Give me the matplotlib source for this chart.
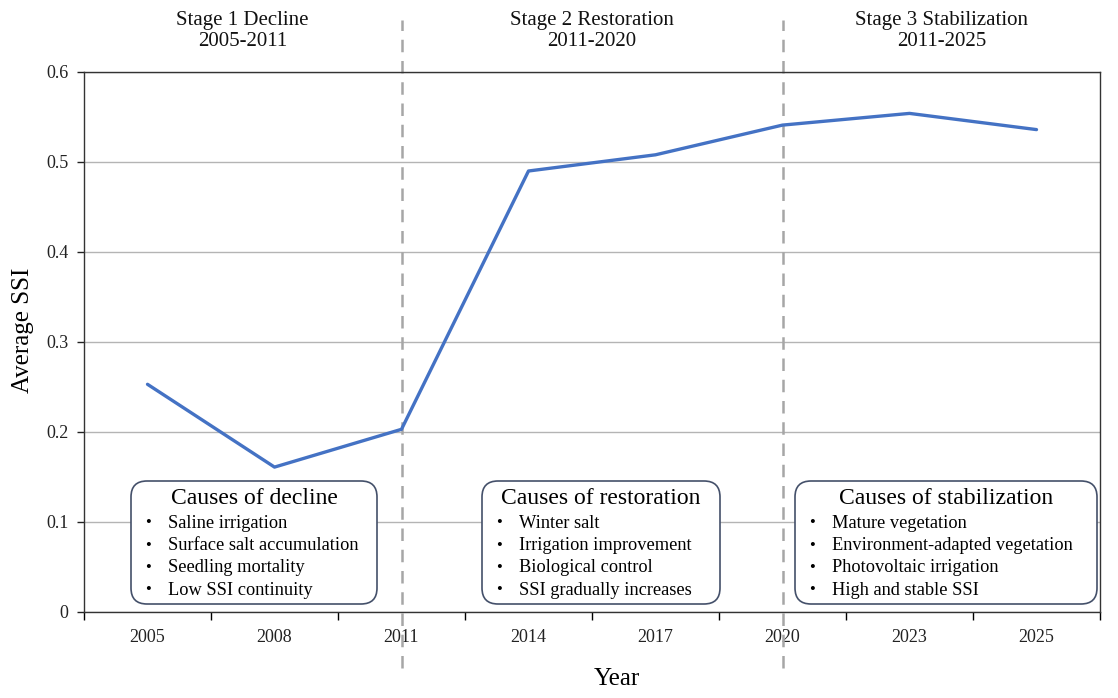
import matplotlib
matplotlib.use("Agg")
import matplotlib.pyplot as plt
from matplotlib.patches import FancyBboxPatch

plt.rcParams['font.family'] = ['Liberation Serif', 'DejaVu Serif']

# data
years = ["2005", "2008", "2011", "2014", "2017", "2020", "2023", "2025"]
ssi = [0.253, 0.161, 0.203, 0.490, 0.508, 0.541, 0.554, 0.536]

stage_titles = ["Stage 1 Decline\n2005-2011",
                "Stage 2 Restoration\n2011-2020",
                "Stage 3 Stabilization\n2011-2025"]
stage_breaks = ["2011", "2020"]

box_titles = ["Causes of decline", "Causes of restoration", "Causes of stabilization"]
box_items = [
    ["Saline irrigation", "Surface salt accumulation", "Seedling mortality", "Low SSI continuity"],
    ["Winter salt", "Irrigation improvement", "Biological control", "SSI gradually increases"],
    ["Mature vegetation", "Environment-adapted vegetation", "Photovoltaic irrigation", "High and stable SSI"],
]

W, H = 1118, 698
L, R, T, B = 84, 1100, 72, 612   # plot area in pixels

fig = plt.figure(figsize=(W / 100, H / 100), dpi=100)
ax = fig.add_axes([L / W, 1 - B / H, (R - L) / W, (B - T) / H])

x = list(range(len(years)))
ax.plot(x, ssi, color='#4472C4', lw=2.4, solid_capstyle='round', zorder=3)

ax.set_xlim(-0.5, len(years) - 0.5)
ax.set_ylim(0, 0.6)
ax.set_xticks(x)
ax.set_xticklabels(years)
ax.set_xticks([i - 0.5 for i in range(len(years) + 1)], minor=True)
ax.tick_params(axis='x', which='major', length=0, pad=12, labelsize=13, colors='#222222')
ax.tick_params(axis='x', which='minor', length=6, width=1, direction='out')
ax.set_yticks([0, 0.1, 0.2, 0.3, 0.4, 0.5, 0.6])
ax.set_yticklabels(["0", "0.1", "0.2", "0.3", "0.4", "0.5", "0.6"])
ax.tick_params(axis='y', length=5, width=1, pad=6, labelsize=13, colors='#222222')
ax.yaxis.grid(True, color='#B4B4B4', lw=1)
ax.set_axisbelow(True)
for s in ax.spines.values():
    s.set_color('#333333')
    s.set_linewidth(1)


def px(xp, yp):
    # figure pixel (from top-left) -> axes fraction
    return (xp - L) / (R - L), (B - yp) / (B - T)


ax.set_xlabel("Year", fontsize=18)
ax.xaxis.set_label_coords(*px(617, 668))
ax.set_ylabel("Average SSI", fontsize=18)
ax.yaxis.set_label_coords(*px(34, 330))

# stage separators
for yr in stage_breaks:
    ax.axvline(years.index(yr), ymin=px(0, 668)[1], ymax=px(0, 20)[1],
               color='#A6A6A6', lw=1.8, ls=(0, (5, 3.5)), clip_on=False, zorder=2)

# stage headings
bounds = [-0.5] + [years.index(y) for y in stage_breaks] + [len(years) - 0.5]
for i, t in enumerate(stage_titles):
    xc = (bounds[i] + bounds[i + 1]) / 2
    ax.text(xc, px(0, 31)[1], t, transform=ax.get_xaxis_transform(),
            ha='center', va='center', fontsize=15, linespacing=1.2, color='#111111')

# cause boxes
box_x = [(131, 377), (482, 720), (795, 1097)]
y0, y1 = 481, 604
aspect = (R - L) / (B - T)
for (xa, xb), title, items in zip(box_x, box_titles, box_items):
    ax0, ay0 = px(xa, y1)
    ax1, ay1 = px(xb, y0)
    patch = FancyBboxPatch((ax0, ay0), ax1 - ax0, ay1 - ay0,
                           boxstyle="round,pad=0,rounding_size=%f" % (16 / (R - L)),
                           mutation_aspect=aspect, transform=ax.transAxes,
                           facecolor='white', edgecolor='#44506A', lw=1.2, zorder=4)
    ax.add_patch(patch)
    tx, ty = px((xa + xb) / 2, 498)
    ax.text(tx, ty, title, transform=ax.transAxes, ha='center', va='center',
            fontsize=17, zorder=5)
    for k, item in enumerate(items):
        yy = 523 + k * 22.5
        bx, by = px(xa + 17, yy)
        ax.text(bx, by, "\u2022", transform=ax.transAxes, ha='center', va='center',
                fontsize=12, zorder=5)
        ix, iy = px(xa + 37, yy)
        ax.text(ix, iy, item, transform=ax.transAxes, ha='left', va='center',
                fontsize=13.2, zorder=5)

fig.savefig("out.png", dpi=100)
